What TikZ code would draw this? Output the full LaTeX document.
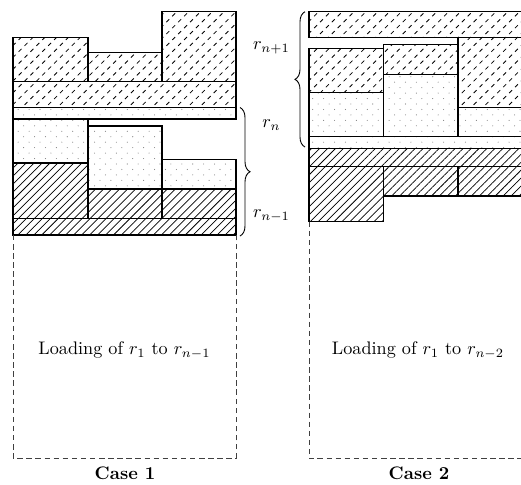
\documentclass[tikz,border=0pt]{standalone}
\usetikzlibrary{patterns,patterns.meta,decorations.pathreplacing}

\pgfdeclarepatternformonly{dashhatch}{\pgfpoint{-0.5pt}{-0.5pt}}{\pgfpoint{7pt}{7pt}}{\pgfpoint{6.5pt}{6.5pt}}{%
  \pgfsetlinewidth{0.45pt}%
  \pgfpathmoveto{\pgfpoint{0.5pt}{0.5pt}}%
  \pgfpathlineto{\pgfpoint{2.1pt}{2.1pt}}%
  \pgfpathmoveto{\pgfpoint{3.75pt}{3.75pt}}%
  \pgfpathlineto{\pgfpoint{5.35pt}{5.35pt}}%
  \pgfusepath{stroke}%
}
\pgfdeclarepatternformonly{sparsedots}{\pgfpoint{-0.5pt}{-0.5pt}}{\pgfpoint{6.5pt}{6.5pt}}{\pgfpoint{6pt}{6pt}}{%
  \pgfpathcircle{\pgfpoint{1pt}{5pt}}{0.3pt}%
  \pgfpathcircle{\pgfpoint{4pt}{2pt}}{0.3pt}%
  \pgfusepath{fill}%
}

\tikzset{
  blk/.style={draw, line width=0.6pt},
  dsh/.style={blk, pattern=dashhatch, pattern color=black},
  dts/.style={blk, pattern=sparsedots, pattern color=black!50},
  hch/.style={blk, pattern={Lines[angle=45,distance=3.1pt,line width=0.4pt]}},
  ldash/.style={dash pattern=on 3pt off 2pt, line width=0.5pt, draw=black!75},
  brc/.style={decorate, decoration={brace, amplitude=5.5pt}, line width=0.5pt},
  lbl/.style={inner sep=0pt},
}

\begin{document}
\begin{tikzpicture}[x=0.55pt, y=-0.55pt]
\useasboundingbox (0,0) rectangle (521,484);
\clip (0,0) rectangle (521,484);

% ---------------- Case 1 ----------------
\draw[dsh] (13,37.3) rectangle (88,81.7);
\draw[dsh] (88,52.3) rectangle (162,81.7);
\draw[dsh] (162,11.7) rectangle (236,81.7);
\draw[dsh] (13,81.7) rectangle (236,107.5);
\draw[dts] (13,107.5) rectangle (236,119);
\draw[dts] (13,119) rectangle (88,163);
\draw[dts] (88,126) rectangle (162,189);
\draw[dts] (162,159.3) rectangle (236,189);
\draw[hch] (13,163) rectangle (88,218.5);
\draw[hch] (88,189) rectangle (162,218.5);
\draw[hch] (162,189) rectangle (236,218.5);
\draw[hch] (13,218.5) rectangle (236,235);
\draw[ldash] (13,235) -- (13,458) -- (236,458) -- (236,235);
\node[lbl] (load1) at (124.5,350) {Loading of $r_1$ to $r_{n-1}$};
\node[lbl] (case1) at (125,473) {\textbf{Case 1}};

\coordinate (b1top) at (240,107.5);
\coordinate (b1bot) at (240,236);
\draw[brc] (b1top) -- (b1bot);

% ---------------- labels ----------------
\node[lbl] (rnp) at (271.5,48) {$r_{n+1}$};
\node[lbl] (rn) at (271.5,125) {$r_{n}$};
\node[lbl] (rnm) at (271.5,216) {$r_{n-1}$};

% ---------------- Case 2 ----------------
\draw[dsh] (309,11.7) rectangle (532,37.3);
\draw[dsh] (309,48.3) rectangle (383.5,92.7);
\draw[dsh] (383.5,44.3) rectangle (458,74.3);
\draw[dsh] (458,37.3) rectangle (532,107.7);
\draw[dts] (309,92.7) rectangle (383.5,136.7);
\draw[dts] (383.5,74.3) rectangle (458,136.7);
\draw[dts] (458,107.7) rectangle (532,136.7);
\draw[dts] (309,136.7) rectangle (532,148.3);
\draw[hch] (309,148.3) rectangle (532,166.7);
\draw[hch] (309,166.7) rectangle (383.5,221.7);
\draw[hch] (383.5,166.7) rectangle (458,196);
\draw[hch] (458,166.7) rectangle (532,196);
\draw[ldash] (309,221.7) -- (309,458.7) -- (532,458.7);
\node[lbl] (load2) at (418,350) {Loading of $r_1$ to $r_{n-2}$};
\node[lbl] (case2) at (419,473) {\textbf{Case 2}};

\coordinate (b2bot) at (305,147);
\coordinate (b2top) at (305,11.7);
\draw[brc] (b2bot) -- (b2top);
\end{tikzpicture}
\end{document}
